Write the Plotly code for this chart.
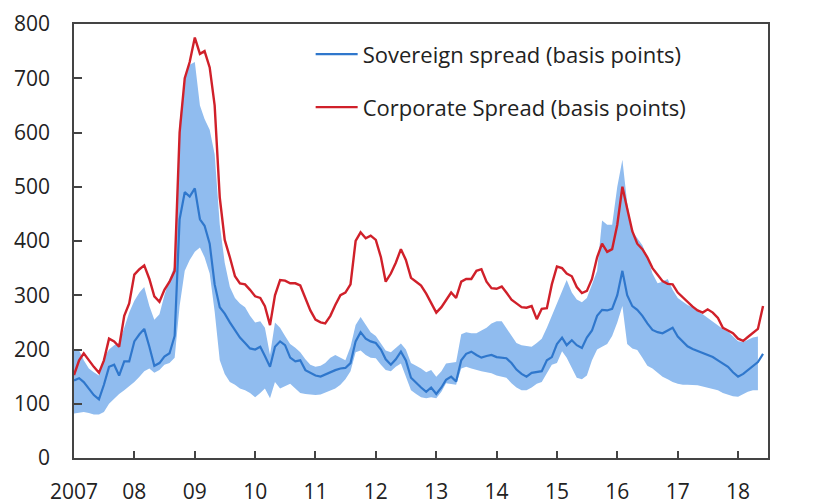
import pandas as pd
import plotly.graph_objects as go

# Monthly observations, Jan 2007 - Jun 2018
dates = pd.date_range("2007-01-01", periods=138, freq="MS")

corporate = [
    153, 180, 193, 180, 168, 157, 180, 220, 215, 205, 262, 285,          # 2007
    338, 348, 355, 330, 298, 288, 310, 325, 345, 600, 700, 730,          # 2008
    775, 745, 750, 720, 650, 480, 402, 370, 335, 322, 320, 310,          # 2009
    298, 295, 280, 245, 300, 328, 327, 322, 322, 318, 295, 272,          # 2010
    255, 250, 248, 262, 282, 300, 305, 320, 400, 416, 405, 410,          # 2011
    402, 370, 325, 340, 360, 385, 365, 332, 325, 318, 303, 285,          # 2012
    268, 278, 291, 305, 295, 325, 330, 330, 345, 348, 325, 313,          # 2013
    312, 316, 305, 292, 285, 278, 277, 280, 256, 275, 276, 320,          # 2014
    353, 350, 340, 335, 315, 304, 308, 330, 370, 395, 380, 385,          # 2015
    430, 500, 460, 418, 395, 385, 370, 350, 338, 326, 321, 320,          # 2016
    305, 296, 287, 279, 272, 268, 274, 268, 258, 240, 235, 230,          # 2017
    220, 216, 223, 230, 238, 280,                                        # 2018
]

sovereign = [
    143, 147, 140, 127, 116, 108, 135, 168, 172, 152, 178, 178,
    215, 228, 238, 205, 170, 175, 187, 193, 225, 440, 490, 482,
    497, 440, 428, 395, 320, 278, 266, 250, 236, 222, 212, 202,
    200, 205, 188, 168, 205, 215, 208, 185, 178, 180, 162, 157,
    152, 150, 154, 158, 162, 165, 166, 175, 215, 232, 220, 215,
    212, 200, 182, 172, 182, 196, 180, 148, 138, 130, 122, 130,
    118, 130, 144, 150, 141, 180, 192, 196, 190, 185, 188, 190,
    186, 185, 184, 175, 163, 155, 150, 157, 159, 160, 180, 186,
    210, 222, 208, 217, 208, 203, 222, 235, 262, 273, 272, 275,
    300, 345, 300, 280, 273, 262, 248, 236, 232, 230, 235, 240,
    224, 215, 206, 201, 197, 193, 190, 186, 180, 174, 168, 158,
    150, 155, 162, 168, 177, 192,
]

# Range across sovereigns (shaded band), Jan 2007 - May 2018
band_upper = [
    200, 198, 180, 165, 158, 152, 185, 200, 208, 212, 240, 268,
    290, 305, 315, 280, 255, 265, 300, 330, 355, 620, 700, 725,
    730, 650, 625, 605, 560, 430, 360, 315, 295, 285, 278, 262,
    250, 252, 240, 190, 250, 240, 225, 210, 203, 195, 182, 172,
    168, 170, 175, 185, 190, 185, 180, 205, 245, 260, 245, 232,
    225, 212, 198, 195, 203, 211, 200, 175, 170, 165, 158, 162,
    150, 160, 174, 176, 177, 228, 232, 230, 230, 235, 240, 248,
    252, 252, 240, 225, 212, 208, 206, 205, 212, 220, 240, 262,
    285, 310, 328, 305, 292, 287, 295, 320, 345, 438, 430, 430,
    500, 550, 470, 418, 405, 392, 370, 340, 322, 325, 330, 310,
    295, 288, 282, 278, 270, 265, 258, 252, 245, 238, 233, 225,
    215, 214, 218, 222, 224,
]

band_lower = [
    82, 83, 85, 83, 80, 80, 85, 100, 110, 118, 125, 132,
    140, 150, 160, 165, 157, 162, 172, 175, 185, 280, 345, 365,
    380, 388, 370, 340, 270, 180, 155, 140, 135, 128, 125, 120,
    112, 120, 128, 110, 140, 128, 132, 137, 128, 120, 118, 117,
    116, 117, 120, 124, 128, 135, 145, 160, 195, 198, 190, 185,
    184, 172, 162, 160, 168, 174, 150, 125, 118, 112, 110, 112,
    110, 122, 138, 137, 135, 165, 168, 165, 162, 160, 158, 156,
    152, 150, 148, 138, 130, 125, 125, 130, 137, 140, 155, 172,
    175, 197, 185, 165, 148, 145, 152, 180, 200, 205, 210, 225,
    250, 280, 210, 202, 199, 185, 170, 165, 158, 150, 145, 140,
    137, 135, 135, 135, 134, 132, 130, 128, 125, 120, 117, 114,
    113, 118, 122, 125, 125,
]

years = list(range(2007, 2019))
tick_text = ["2007", "08", "09", "10", "11", "12", "13", "14", "15", "16", "17", "18"]
y_ticks = [0, 100, 200, 300, 400, 500, 600, 700, 800]

FONT = "Open Sans"
AX = "#444444"
band_dates = dates[:len(band_upper)]

fig = go.Figure()
fig.add_trace(go.Scatter(x=band_dates, y=band_lower, mode="lines",
                         line=dict(width=0, color="rgba(0,0,0,0)"),
                         showlegend=False, hoverinfo="skip"))
fig.add_trace(go.Scatter(x=band_dates, y=band_upper, mode="lines",
                         line=dict(width=0, color="rgba(0,0,0,0)"),
                         fill="tonexty", fillcolor="#90bcef",
                         showlegend=False, hoverinfo="skip"))
fig.add_trace(go.Scatter(x=dates, y=sovereign, mode="lines",
                         name="Sovereign spread (basis points)",
                         line=dict(color="#2f77cc", width=2.2),
                         legend="legend"))
fig.add_trace(go.Scatter(x=dates, y=corporate, mode="lines",
                         name="Corporate Spread (basis points)",
                         line=dict(color="#d0202a", width=2.4),
                         legend="legend2"))

axis_common = dict(showgrid=False, zeroline=False, showline=True,
                   linecolor=AX, linewidth=1.5, ticks="inside",
                   tickcolor=AX, tickwidth=1.5, automargin=False,
                   tickfont=dict(family=FONT, size=21, color="#222222"))

legend_font = dict(family=FONT, size=22, color="#222222")

fig.update_layout(
    width=833, height=504,
    margin=dict(l=74, r=65, t=24, b=46),
    paper_bgcolor="white", plot_bgcolor="white",
    font=dict(family=FONT, color="#222222"),
    xaxis=dict(range=[pd.Timestamp("2007-01-01"), pd.Timestamp("2018-07-01")],
               tickvals=[pd.Timestamp(f"{y}-01-01") for y in years],
               ticktext=tick_text, ticklen=7, mirror=True,
               ticklabelstandoff=14, **axis_common),
    yaxis=dict(range=[0, 800], tickvals=y_ticks, ticklen=8,
               ticklabelstandoff=18, mirror=True, **axis_common),
    yaxis2=dict(range=[0, 800], tickvals=y_ticks, ticklen=8,
                overlaying="y", side="right", anchor="x",
                ticklabelstandoff=24, **axis_common),
    legend=dict(x=0.341, y=0.93, xanchor="left", yanchor="middle", itemwidth=42,
                bgcolor="rgba(0,0,0,0)", font=legend_font),
    legend2=dict(x=0.341, y=0.808, xanchor="left", yanchor="middle", itemwidth=42,
                 bgcolor="rgba(0,0,0,0)", font=legend_font),
    showlegend=True,
)

fig.write_html("out.html", config={"displayModeBar": False},
               post_script="document.body.style.margin='0px';document.body.style.overflow='hidden';")
